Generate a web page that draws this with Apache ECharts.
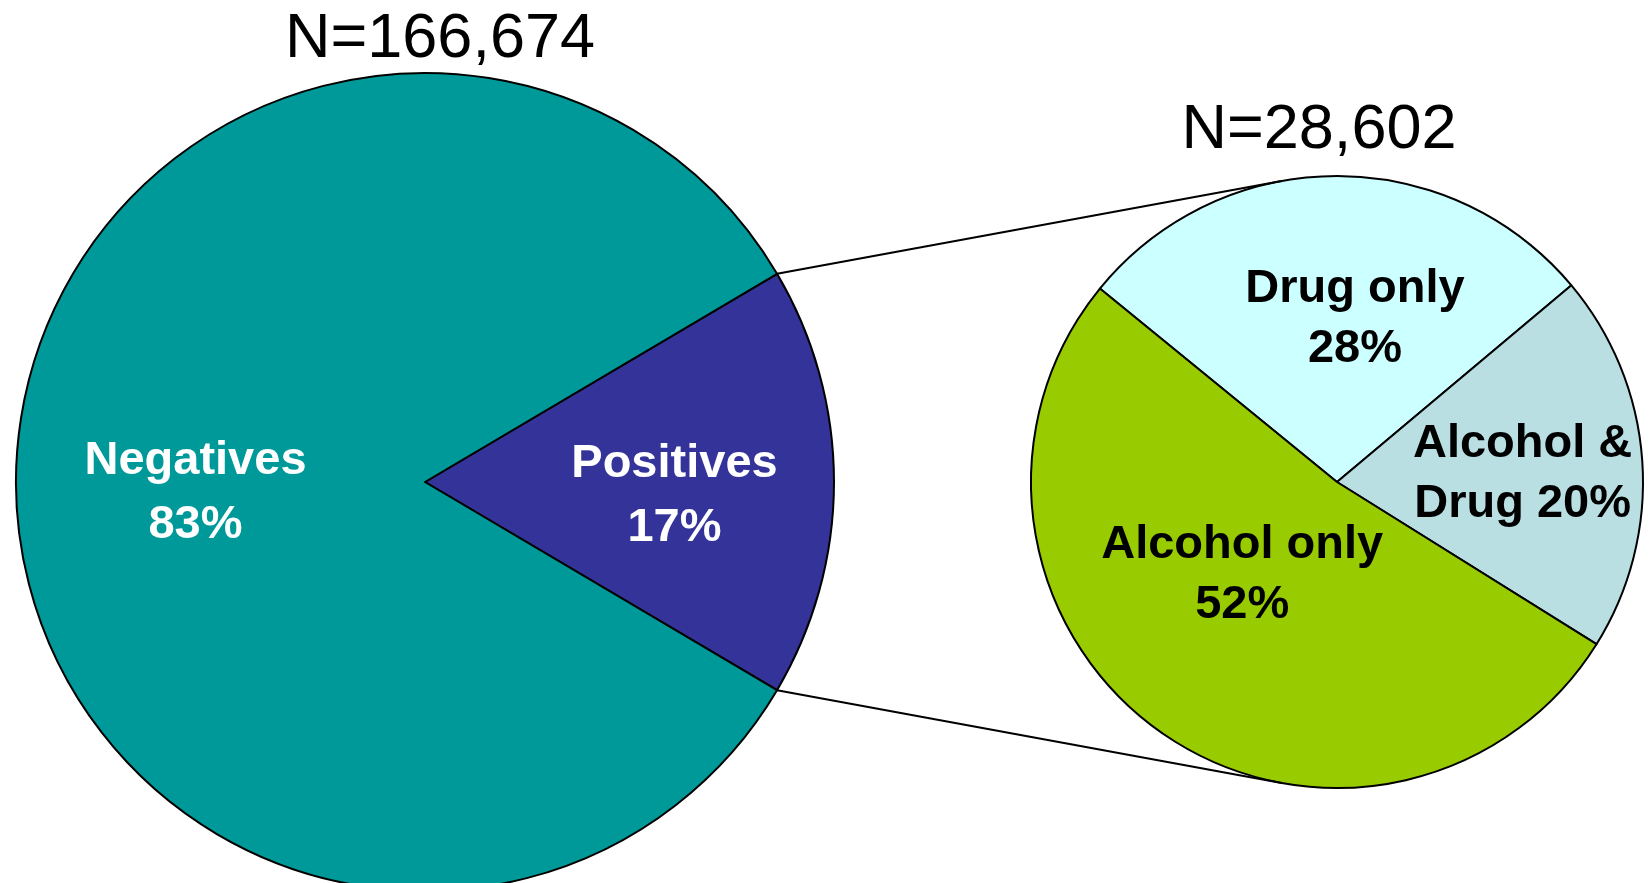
<!DOCTYPE html>
<html>
<head>
<meta charset="utf-8">
<script src="https://cdn.jsdelivr.net/npm/echarts@6/dist/echarts.min.js"></script>
<style>
html,body{margin:0;padding:0;background:#fff;}
#chart{width:1649px;height:883px;}
</style>
</head>
<body>
<div id="chart"></div>
<script>
// ---- data ----
const mainTitle = 'N=166,674';
const mainCategories = ['Positives', 'Negatives'];
const mainValues = [17, 83];
const subTitle = 'N=28,602';
const subCategories = ['Drug only', 'Alcohol & Drug', 'Alcohol only'];
const subValues = [28, 20, 52];

// ---- layout / style ----
const C1 = [425, 482], R1 = 409;
const C2 = [1337, 482], R2 = 306;
const start1 = 30.6;
const start2 = 140.8;
const mainColors = ['#333399', '#009999'];
const subColors = ['#CCFFFF', '#BADFE3', '#99CC00'];
const mainOffsets = [[42, 14], [-22, 11]];
const subOffsets = [[19, -7], [30, 3], [-4, -34]];
const FONT = '"Liberation Sans", Arial, Helvetica, sans-serif';

function lbl(name, value) {
  if (name.indexOf('&') >= 0) return name.replace('& ', '&\n') + ' ' + value + '%';
  return name + '\n' + value + '%';
}

const chart = echarts.init(document.getElementById('chart'), null, {renderer: 'canvas'});

// connector lines: from the Positives slice edge tangent to the sub pie
const half = mainValues[0] / 100 * 360 / 2;
const aTop = (start1) * Math.PI / 180;
const aBot = (start1 - 2 * half) * Math.PI / 180;
function pt(c, r, a) { return [c[0] + r * Math.cos(a), c[1] - r * Math.sin(a)]; }
function tangent(P, upper) {
  const dx = C2[0] - P[0], dy = C2[1] - P[1];
  const d = Math.sqrt(dx * dx + dy * dy);
  const th = Math.atan2(dy, dx);
  const al = Math.asin(R2 / d);
  const L = Math.sqrt(d * d - R2 * R2);
  const a = upper ? th - al : th + al;
  return [P[0] + L * Math.cos(a), P[1] + L * Math.sin(a)];
}
const P1 = pt(C1, R1, aTop), P2 = pt(C1, R1, aBot);
const T1 = tangent(P1, true), T2 = tangent(P2, false);

const option = {
  backgroundColor: '#ffffff',
  animation: false,
  series: [
    {
      type: 'pie',
      center: C1,
      radius: R1,
      startAngle: start1,
      clockwise: true,
      avoidLabelOverlap: false,
      silent: true,
      itemStyle: {borderColor: '#000', borderWidth: 2},
      label: {
        show: true, position: 'inside', color: '#fff',
        fontFamily: FONT, fontWeight: 'bold', fontSize: 47, lineHeight: 64, align: 'center',
        formatter: p => p.name + '\n' + p.value + '%'
      },
      labelLine: {show: false},
      data: mainCategories.map((n, i) => ({
        name: n, value: mainValues[i],
        itemStyle: {color: mainColors[i]},
        label: {offset: mainOffsets[i]}
      }))
    },
    {
      type: 'pie',
      center: C2,
      radius: R2,
      startAngle: start2,
      clockwise: true,
      avoidLabelOverlap: false,
      silent: true,
      itemStyle: {borderColor: '#000', borderWidth: 2},
      label: {
        show: true, position: 'inside', color: '#000',
        fontFamily: FONT, fontWeight: 'bold', fontSize: 47, lineHeight: 60, align: 'center',
        formatter: p => lbl(p.name, p.value)
      },
      labelLine: {show: false},
      data: subCategories.map((n, i) => ({
        name: n, value: subValues[i],
        itemStyle: {color: subColors[i]},
        label: {offset: subOffsets[i]}
      }))
    }
  ],
  graphic: [
    {type: 'line', z: 10, shape: {x1: P1[0], y1: P1[1], x2: T1[0], y2: T1[1]}, style: {stroke: '#000', lineWidth: 2}},
    {type: 'line', z: 10, shape: {x1: P2[0], y1: P2[1], x2: T2[0], y2: T2[1]}, style: {stroke: '#000', lineWidth: 2}},
    {type: 'text', x: 440, y: 40, style: {text: mainTitle, font: '63px ' + FONT, fill: '#000', textAlign: 'center', textVerticalAlign: 'middle'}},
    {type: 'text', x: 1319, y: 131, style: {text: subTitle, font: '63px ' + FONT, fill: '#000', textAlign: 'center', textVerticalAlign: 'middle'}}
  ]
};
chart.setOption(option);
</script>
</body>
</html>
